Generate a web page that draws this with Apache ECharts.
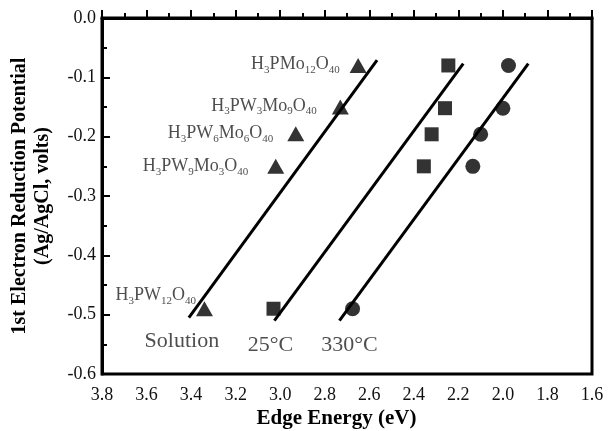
<!DOCTYPE html>
<html>
<head>
<meta charset="utf-8">
<script src="https://cdn.jsdelivr.net/npm/echarts@6/dist/echarts.min.js"></script>
<style>
  html, body { margin: 0; padding: 0; background: #fff; }
  #chart { width: 609px; height: 431px; }
</style>
</head>
<body>
<div id="chart"></div>
<script>
// heteropoly acids: edge energy vs 1st reduction potential
var compounds = ['H3PMo12O40', 'H3PW3Mo9O40', 'H3PW6Mo6O40', 'H3PW9Mo3O40', 'H3PW12O40'];
var solutionEnergy = [2.65, 2.73, 2.93, 3.02, 3.34];
var solutionPotential = [-0.08, -0.15, -0.195, -0.25, -0.49];
var rt25Energy = [2.245, 2.26, 2.32, 2.355, 3.03];
var rt25Potential = [-0.08, -0.152, -0.196, -0.25, -0.49];
var hot330Energy = [1.975, 2.0, 2.1, 2.135, 2.675];
var hot330Potential = [-0.08, -0.152, -0.196, -0.25, -0.49];

// fitted lines (bottom end, top end)
var solutionFitEnergy = [3.41, 2.565];
var solutionFitPotential = [-0.505, -0.071];
var rt25FitEnergy = [3.026, 2.178];
var rt25FitPotential = [-0.51, -0.077];
var hot330FitEnergy = [2.734, 1.886];
var hot330FitPotential = [-0.51, -0.077];

var groupNames = ['Solution', '25°C', '330°C'];

var serif = '"Liberation Serif", "DejaVu Serif", serif';

function pairs(xs, ys) {
  return xs.map(function (x, i) { return [x, ys[i]]; });
}

// H3PMo12O40 -> rich text with subscripts
function formula(s) {
  return s.replace(/(\d+)|([^\d]+)/g, function (m, d, t) {
    return d ? '{s|' + d + '}' : '{n|' + t + '}';
  });
}

// label placement for the compound names (distance from marker, offset)
var compoundLabelPos = [
  { distance: 10, offset: [0, -1] },
  { distance: 15, offset: [0, -1] },
  { distance: 14, offset: [0, 0] },
  { distance: 19, offset: [0, 0] },
  { distance: 0, offset: [0, -13] }
];
var groupLabelOffset = [[-7, 24], [-4, 25], [10, 25]];

var chart = echarts.init(document.getElementById('chart'));

var solutionData = pairs(solutionEnergy, solutionPotential).map(function (p, i) {
  return {
    value: p,
    label: {
      show: true,
      position: 'left',
      distance: compoundLabelPos[i].distance,
      offset: compoundLabelPos[i].offset,
      formatter: formula(compounds[i]),
      rich: {
        n: { fontFamily: serif, fontSize: 18, color: '#222', lineHeight: 22 },
        s: { fontFamily: serif, fontSize: 11, color: '#222', lineHeight: 8, verticalAlign: 'bottom' }
      }
    }
  };
});

var annotData = [
  [solutionFitEnergy[0], solutionFitPotential[0]],
  [rt25FitEnergy[0], rt25FitPotential[0]],
  [hot330FitEnergy[0], hot330FitPotential[0]]
].map(function (p, i) {
  return {
    value: p,
    label: {
      show: true,
      position: 'inside',
      offset: groupLabelOffset[i],
      formatter: groupNames[i]
    }
  };
});

function fitLine(xs, ys) {
  return {
    type: 'line',
    data: pairs(xs, ys),
    symbol: 'none',
    silent: true,
    lineStyle: { color: '#000', width: 3 },
    z: 2
  };
}

var option = {
  animation: false,
  backgroundColor: '#fff',
  grid: {
    left: 102, right: 17, top: 18, bottom: 57,
    outerBoundsMode: 'none',
    show: true, borderColor: '#000', borderWidth: 3
  },
  xAxis: {
    type: 'value',
    inverse: true,
    min: 1.6, max: 3.8, interval: 0.2,
    name: 'Edge Energy (eV)',
    nameLocation: 'middle',
    nameGap: 34,
    nameMoveOverlap: false,
    nameTextStyle: { fontFamily: serif, fontSize: 21, fontWeight: 'bold', color: '#000', padding: [0, 21, 0, 0] },
    axisLine: { lineStyle: { color: '#000', width: 3 } },
    axisTick: { inside: true, length: 8, lineStyle: { color: '#000', width: 2 } },
    minorTick: { show: true, splitNumber: 2, length: 5, lineStyle: { color: '#000', width: 2 } },
    splitLine: { show: false },
    axisLabel: {
      margin: 12, fontFamily: serif, fontSize: 18, color: '#111',
      formatter: function (v) { return v.toFixed(1); }
    }
  },
  yAxis: {
    type: 'value',
    min: -0.6, max: 0, interval: 0.1,
    name: '1st Electron Reduction Potential\n(Ag/AgCl, volts)',
    nameLocation: 'middle',
    nameRotate: 90,
    nameGap: 48,
    nameMoveOverlap: false,
    nameTextStyle: { fontFamily: serif, fontSize: 20, fontWeight: 'bold', color: '#000', lineHeight: 23 },
    axisLine: { lineStyle: { color: '#000', width: 3 } },
    axisTick: { inside: true, length: 8, lineStyle: { color: '#000', width: 2 } },
    minorTick: { show: true, splitNumber: 2, length: 5, lineStyle: { color: '#000', width: 2 } },
    splitLine: { show: false },
    axisLabel: {
      margin: 6, fontFamily: serif, fontSize: 18, color: '#111',
      formatter: function (v) { return v.toFixed(1); }
    }
  },
  series: [
    fitLine(solutionFitEnergy, solutionFitPotential),
    fitLine(rt25FitEnergy, rt25FitPotential),
    fitLine(hot330FitEnergy, hot330FitPotential),
    {
      type: 'scatter',
      data: solutionData,
      symbol: 'triangle',
      symbolSize: [17, 15],
      itemStyle: { color: '#000' },
      z: 3
    },
    {
      type: 'scatter',
      data: pairs(rt25Energy, rt25Potential),
      symbol: 'rect',
      symbolSize: 14,
      itemStyle: { color: '#000' },
      z: 3
    },
    {
      type: 'scatter',
      data: pairs(hot330Energy, hot330Potential),
      symbol: 'circle',
      symbolSize: 15,
      itemStyle: { color: '#000' },
      z: 3
    },
    {
      type: 'scatter',
      data: annotData,
      symbolSize: 1,
      itemStyle: { color: 'rgba(0,0,0,0)' },
      label: { fontFamily: serif, fontSize: 22, color: '#222' },
      silent: true,
      z: 4
    }
  ]
};

chart.setOption(option);
</script>
</body>
</html>
